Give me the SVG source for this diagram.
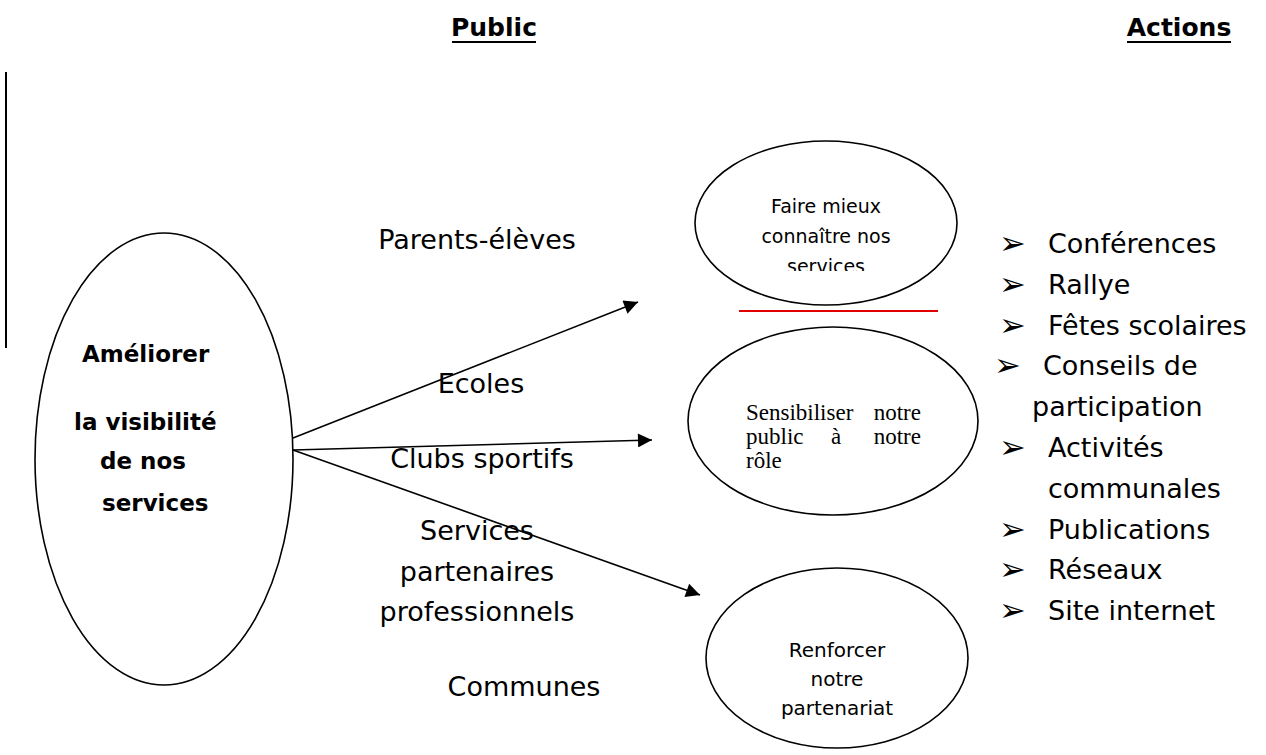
<svg xmlns="http://www.w3.org/2000/svg" width="1266" height="755" viewBox="0 0 1266 755">
<style>
  .c { font-family: "DejaVu Sans", "Liberation Sans", sans-serif; fill: #000; }
  .h { font-size: 25px; font-weight: bold; text-anchor: middle; }
  .pub { font-size: 27px; text-anchor: middle; }
  .act { font-size: 27px; }
  .bul { font-size: 32px; }
  .node { fill: #fff; stroke: #000; stroke-width: 1.6; }
  .conn line { stroke: #000; stroke-width: 1.6; }
  .small { font-size: 19px; text-anchor: middle; }
  .small2 { font-size: 20px; text-anchor: middle; }
  .bl { font-size: 23px; font-weight: bold; }
  .tnr { font-family: "Liberation Serif", serif; font-size: 23px; fill: #000; }
</style>
<defs>
  <marker id="arrL" viewBox="0 0 10 10" refX="10" refY="5" markerWidth="17" markerHeight="14" markerUnits="userSpaceOnUse" orient="auto">
    <path d="M0,0 L10,5 L0,10 z" fill="#000"/>
  </marker>
  <clipPath id="clipFaire"><rect x="700" y="150" width="250" height="121"/></clipPath>
</defs>

<g id="headers">
  <text class="c h" x="494" y="36">Public</text>
  <line x1="452" y1="42" x2="536" y2="42" stroke="#000" stroke-width="2"/>
  <text class="c h" x="1179" y="36">Actions</text>
  <line x1="1127" y1="42" x2="1231" y2="42" stroke="#000" stroke-width="2"/>
</g>

<line id="vbar" x1="6" y1="72" x2="6" y2="348" stroke="#000" stroke-width="2"/>

<g id="node-ameliorer">
  <ellipse class="node" cx="164" cy="459" rx="129" ry="226"/>
  <text class="c bl" x="82" y="362">Améliorer</text>
  <text class="c bl" x="74" y="430">la visibilité</text>
  <text class="c bl" x="100" y="469">de nos</text>
  <text class="c bl" x="102" y="511">services</text>
</g>

<g id="connectors" class="conn">
  <line x1="293" y1="438" x2="638" y2="302" marker-end="url(#arrL)"/>
  <line x1="293" y1="450" x2="652" y2="440" marker-end="url(#arrL)"/>
  <line x1="293" y1="450" x2="700" y2="595" marker-end="url(#arrL)"/>
</g>

<g id="public-labels">
  <text class="c pub" x="477" y="249">Parents-élèves</text>
  <text class="c pub" x="481" y="393">Ecoles</text>
  <text class="c pub" x="482" y="468">Clubs sportifs</text>
  <text class="c pub" x="477" y="540">Services</text>
  <text class="c pub" x="477" y="581">partenaires</text>
  <text class="c pub" x="477" y="621">professionnels</text>
  <text class="c pub" x="524" y="696">Communes</text>
</g>

<g id="node-faire">
  <ellipse class="node" cx="826" cy="223" rx="131" ry="82"/>
  <g clip-path="url(#clipFaire)">
    <text class="c small" x="826" y="213">Faire mieux</text>
    <text class="c small" x="826" y="243">connaître nos</text>
    <text class="c small" x="826" y="273">services</text>
  </g>
</g>

<line id="red-line" x1="739" y1="311" x2="938" y2="311" stroke="#e00000" stroke-width="1.8"/>

<g id="node-sensibiliser">
  <ellipse class="node" cx="833" cy="421" rx="145" ry="94"/>
  <text class="tnr" x="746" y="420">Sensibiliser</text>
  <text class="tnr" x="921" y="420" text-anchor="end">notre</text>
  <text class="tnr" x="746" y="444">public</text>
  <text class="tnr" x="836" y="444" text-anchor="middle">à</text>
  <text class="tnr" x="921" y="444" text-anchor="end">notre</text>
  <text class="tnr" x="746" y="468">rôle</text>
</g>

<g id="node-renforcer">
  <ellipse class="node" cx="837" cy="658" rx="131" ry="90"/>
  <text class="c small2" x="837" y="657">Renforcer</text>
  <text class="c small2" x="837" y="686">notre</text>
  <text class="c small2" x="837" y="715">partenariat</text>
</g>

<g id="actions">
  <g class="c act">
    <text class="bul" x="999" y="254">➢</text><text x="1048" y="253">Conférences</text>
    <text class="bul" x="999" y="295">➢</text><text x="1048" y="294">Rallye</text>
    <text class="bul" x="999" y="336">➢</text><text x="1048" y="335">Fêtes scolaires</text>
    <text class="bul" x="994" y="376">➢</text><text x="1043" y="375">Conseils de</text>
    <text x="1032" y="416">participation</text>
    <text class="bul" x="999" y="458">➢</text><text x="1048" y="457">Activités</text>
    <text x="1048" y="498">communales</text>
    <text class="bul" x="999" y="540">➢</text><text x="1048" y="539">Publications</text>
    <text class="bul" x="999" y="580">➢</text><text x="1048" y="579">Réseaux</text>
    <text class="bul" x="999" y="621">➢</text><text x="1048" y="620">Site internet</text>
  </g>
</g>
</svg>
